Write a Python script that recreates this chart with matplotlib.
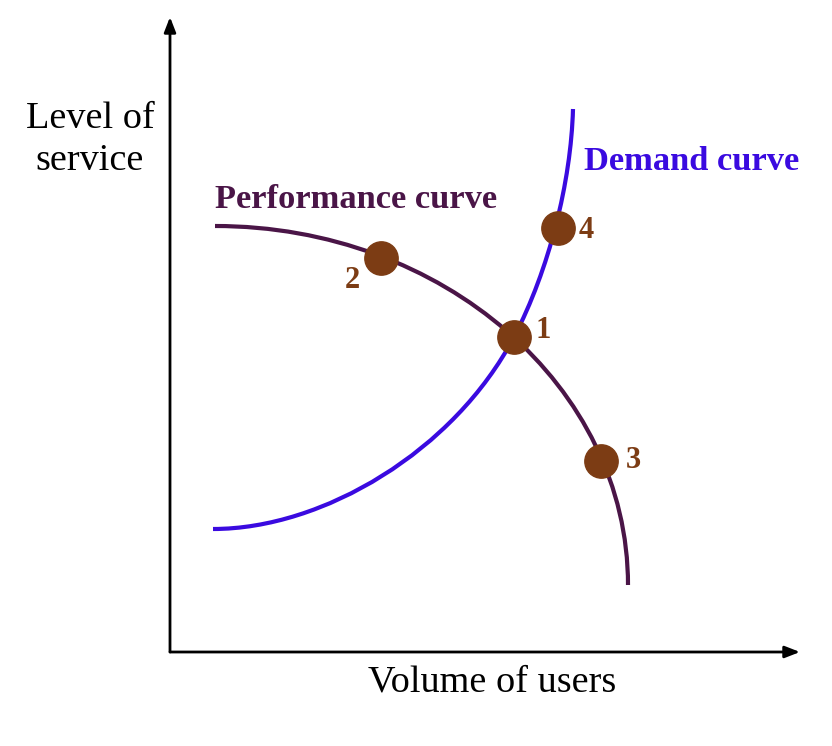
import matplotlib
matplotlib.use("Agg")
import matplotlib.pyplot as plt
from matplotlib.path import Path
from matplotlib.patches import PathPatch

plt.rcParams['font.family'] = ['Liberation Serif', 'DejaVu Serif']

# --- DATA (origin at the axis corner) ---
# cubic Bezier control points of the two curves
perf_ctrl_x = [45, 273, 458, 458]
perf_ctrl_y = [426, 426, 265, 67]

demand_ctrl_x = [43, 153, 284, 344, 379, 401, 403]
demand_ctrl_y = [123, 123, 201, 315, 382, 470, 543]

point_labels = ['1', '2', '3', '4']
point_x = [344, 211, 431, 388]
point_y = [315, 394, 191, 424]

PERF_COLOR = '#4a1547'
DEMAND_COLOR = '#3a0ae0'
POINT_COLOR = '#7c3c14'


def bezier_path(xs, ys):
    codes = [Path.MOVETO] + [Path.CURVE4] * (len(xs) - 1)
    return Path(list(zip(xs, ys)), codes)


fig = plt.figure(figsize=(8.32, 7.46), dpi=100)
ax = fig.add_axes([0, 0, 1, 1])
ax.set_xlim(-170, 662)
ax.set_ylim(-94, 652)
ax.axis('off')

# axes with arrow heads
arrow = dict(arrowstyle='-|>,head_length=0.9,head_width=0.35', color='black', lw=2,
             shrinkA=0, shrinkB=0)
ax.annotate('', xy=(630, 0), xytext=(0, 0), arrowprops=arrow)
ax.annotate('', xy=(0, 635), xytext=(0, 0), arrowprops=arrow)

# curves
ax.add_patch(PathPatch(bezier_path(perf_ctrl_x, perf_ctrl_y), fill=False,
                       edgecolor=PERF_COLOR, lw=3, capstyle='butt', zorder=2))
ax.add_patch(PathPatch(bezier_path(demand_ctrl_x, demand_ctrl_y), fill=False,
                       edgecolor=DEMAND_COLOR, lw=3, capstyle='butt', zorder=2))

# points
ax.plot(point_x, point_y, 'o', color=POINT_COLOR, markersize=24, zorder=3)
offsets = {'1': (29, 7), '2': (-29, -22), '3': (32, 1), '4': (28, -3)}
for lab, px, py in zip(point_labels, point_x, point_y):
    dx, dy = offsets[lab]
    ax.text(px + dx, py + dy, lab, color=POINT_COLOR, fontsize=22, fontweight='bold',
            ha='center', va='center')

# labels
ax.text(186, 453, 'Performance curve', color=PERF_COLOR, fontsize=24.8, fontweight='bold',
        ha='center', va='center')
ax.text(522, 490, 'Demand curve', color=DEMAND_COLOR, fontsize=24.8, fontweight='bold',
        ha='center', va='center')
ax.text(322, -30, 'Volume of users', fontsize=27.5, ha='center', va='center')
ax.text(-80, 512, 'Level of\nservice', fontsize=27.5, ha='center', va='center',
        linespacing=1.3)

fig.savefig('out.png', dpi=100)
